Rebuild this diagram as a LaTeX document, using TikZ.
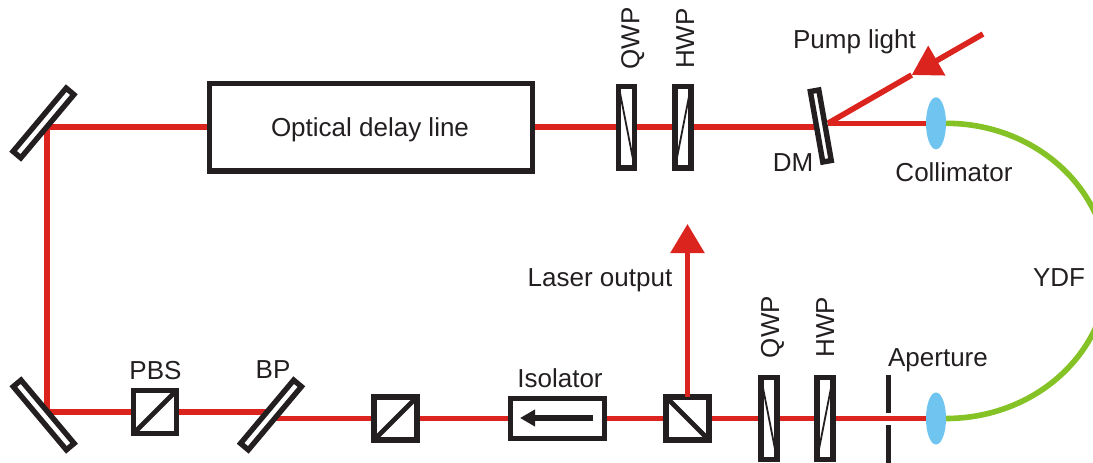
\documentclass[tikz,border=0pt]{standalone}
\usepackage{fontspec}
\setmainfont{Liberation Sans}
\usetikzlibrary{arrows.meta,backgrounds,shapes.geometric}
\definecolor{beamred}{HTML}{DC241F}
\definecolor{fibergreen}{HTML}{84C225}
\definecolor{lensblue}{HTML}{70C4F0}
\definecolor{inkblack}{HTML}{231F20}
\tikzset{
  part/.style={draw=inkblack,line width=5.4pt,fill=white,rectangle,inner sep=0pt,outer sep=0pt},
  mirrorbar/.style={part,minimum width=82.6pt,minimum height=10.1pt},
  cube/.style={part,minimum width=43pt,minimum height=43pt},
  plate/.style={part,minimum width=16pt,minimum height=81.6pt},
  lens/.style={ellipse,fill=lensblue,inner sep=0pt,outer sep=0pt,minimum width=20pt,minimum height=52pt},
  beam/.style={draw=beamred,line width=5.6pt},
  fiber/.style={draw=fibergreen,line width=5.6pt},
  thin diag/.style={draw=inkblack,line width=1.8pt},
  thick diag/.style={draw=inkblack,line width=4.8pt},
  stopbar/.style={draw=inkblack,line width=5.4pt},
  bigtip/.style={-{Triangle[length=29pt,width=33pt]}},
  lab/.style={text=inkblack,inner sep=0pt,anchor=base,font=\fontsize{26}{30}\selectfont},
}
\begin{document}
\begin{tikzpicture}[x=1pt,y=-1pt]
\clip (0,0) rectangle (1093,463);
% components
\node[mirrorbar,rotate=50] (m1) at (43.5,123) {};
\node[mirrorbar,rotate=-50] (m2) at (43.7,415) {};
\node[part,minimum width=322.6pt,minimum height=87.6pt] (delay) at (371,127) {};
\node[plate] (qwpT) at (626.7,127) {};
\node[plate] (hwpT) at (683,127) {};
\node[part,minimum width=71.6pt,minimum height=8.6pt,rotate=-80] (dm) at (820.8,126) {};
\node[lens] (lensT) at (936,123.3) {};
\node[cube] (pbsA) at (155,412) {};
\node[mirrorbar,rotate=50] (bp) at (271,415) {};
\node[cube] (pbsB) at (395.5,418.5) {};
\node[part,minimum width=94.2pt,minimum height=39.6pt] (iso) at (557.5,418.5) {};
\node[cube] (pbsC) at (687.5,418.5) {};
\node[plate] (qwpB) at (769,418.5) {};
\node[plate] (hwpB) at (825,418.5) {};
\node[lens] (lensB) at (936,418.5) {};
% free points
\coordinate (cornerT) at (47,127);
\coordinate (cornerB) at (47,412);
\coordinate (bpIn) at (271,412);
\coordinate (bpOut) at (271,418.5);
\coordinate (dmIn) at (821,127);
\coordinate (dmOut) at (828,123.3);
\coordinate (pumpEnd) at (983,34);
\coordinate (pumpTip) at (911.7,75);
\coordinate (outTip) at (687.5,224);
\coordinate (isoA) at (593,418);
\coordinate (isoB) at (520,418);
\coordinate (apTa) at (888.7,375);
\coordinate (apTb) at (888.7,412.7);
\coordinate (apBa) at (888.7,425);
\coordinate (apBb) at (888.7,463);
\coordinate (fiberEdge) at (1108,271);
% beams
\begin{scope}[on background layer]
\draw[beam,line cap=rect] (cornerT) -- (delay.west);
\draw[beam] (cornerT) -- (cornerB);
\draw[beam] (cornerB) -- (pbsA.west);
\draw[beam] (pbsA.east) -- (bpIn);
\draw[beam] (bpOut) -- (pbsB.west);
\draw[beam] (pbsB.east) -- (iso.west);
\draw[beam] (iso.east) -- (pbsC.west);
\draw[beam] (pbsC.east) -- (qwpB.west);
\draw[beam] (qwpB.east) -- (hwpB.west);
\draw[beam] (hwpB.east) -- (lensB.west);
\draw[beam] (delay.east) -- (qwpT.west);
\draw[beam] (qwpT.east) -- (hwpT.west);
\draw[beam] (hwpT.east) -- (dmIn);
\draw[beam] (dmOut) -- (lensT.west);
\draw[beam] (pumpTip) -- (dmOut);
\end{scope}
\draw[beam,bigtip,beamred] (pumpEnd) -- (pumpTip);
\draw[beam,bigtip,beamred] (pbsC.north) -- (outTip);
\draw[fiber] (lensT.east) .. controls +(89.5,0) and (1108,189.5) .. (fiberEdge)
             .. controls (1108,352.5) and +(89.5,0) .. (lensB.east);
% inner details
\draw[thick diag] (pbsA.south west) -- (pbsA.north east);
\draw[thick diag] (pbsB.south west) -- (pbsB.north east);
\draw[thick diag] (pbsC.north west) -- (pbsC.south east);
\draw[thin diag] (qwpT.north west) -- (qwpT.south east);
\draw[thin diag] (hwpT.north east) -- (hwpT.south west);
\draw[thin diag] (qwpB.north west) -- (qwpB.south east);
\draw[thin diag] (hwpB.north east) -- (hwpB.south west);
\draw[draw=inkblack,line width=5.4pt,-{Triangle[length=15pt,width=16pt]}] (isoA) -- (isoB);
\draw[stopbar] (apTa) -- (apTb);
\draw[stopbar] (apBa) -- (apBb);
% labels
\node[lab] (tDelay) at (370,136) {Optical delay line};
\node[lab,rotate=90] (tQT) at (639.3,38.5) {QWP};
\node[lab,rotate=90] (tHT) at (694,38.5) {HWP};
\node[lab] (tPump) at (854.5,48) {Pump light};
\node[lab] (tDM) at (793,171) {DM};
\node[lab] (tColl) at (954,181.7) {Collimator};
\node[lab] (tYDF) at (1059,286) {YDF};
\node[lab] (tOut) at (600,286) {Laser output};
\node[lab] (tIso) at (560,387.7) {Isolator};
\node[lab,rotate=90] (tQB) at (779,327) {QWP};
\node[lab,rotate=90] (tHB) at (834,327) {HWP};
\node[lab] (tAp) at (938,366) {Aperture};
\node[lab] (tPBS) at (155.5,379) {PBS};
\node[lab] (tBP) at (273,378) {BP};
\end{tikzpicture}
\end{document}
